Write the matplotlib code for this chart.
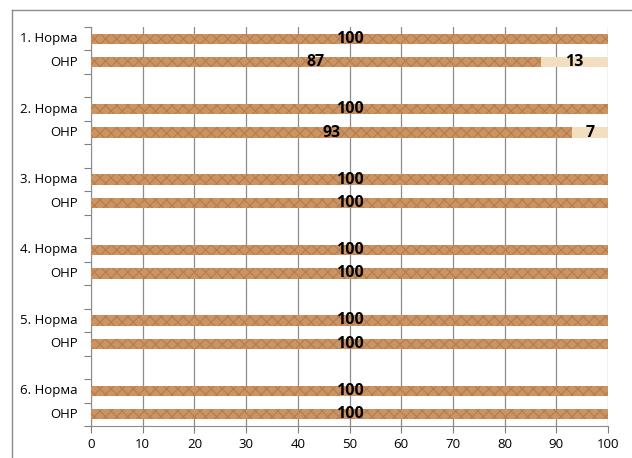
import matplotlib
matplotlib.use("Agg")
import matplotlib.pyplot as plt
from matplotlib.lines import Line2D
import numpy as np

groups = ["1.", "2.", "3.", "4.", "5.", "6."]
row_names = ["Норма", "ОНР"]
# percentage of first (dark) segment for [Норма, ОНР] in each group
main_vals = [[100, 87], [100, 93], [100, 100], [100, 100], [100, 100], [100, 100]]
rest_vals = [[0, 13], [0, 7], [0, 0], [0, 0], [0, 0], [0, 0]]
xticks = [0, 10, 20, 30, 40, 50, 60, 70, 80, 90, 100]

W, H = 632, 458
fig = plt.figure(figsize=(W / 100, H / 100), dpi=100)
plt.rcParams['font.family'] = ['Open Sans', 'DejaVu Sans']
plt.rcParams['hatch.linewidth'] = 0.8

left, right, top, bottom = 91, 608, 27, 426
ax = fig.add_axes([left / W, 1 - bottom / H, (right - left) / W, (bottom - top) / H])

n_slots = len(groups) * 3 - 1
labels_pos = []
labels_txt = []
dark = '#CC9463'
dark_hatch = '#B57C4E'
light = '#F3DFC0'
bh = 0.44
for gi, g in enumerate(groups):
    for ri, rn in enumerate(row_names):
        slot = gi * 3 + ri
        y = n_slots - slot - 0.5
        m = main_vals[gi][ri]
        r = rest_vals[gi][ri]
        ax.barh(y, m, height=bh, color=dark, edgecolor=dark_hatch, hatch='xxx', linewidth=0, zorder=3)
        if r > 0:
            ax.barh(y, r, left=m, height=bh, color=light, linewidth=0, zorder=3)
            ax.text(m + r / 2, y, str(r), ha='center', va='center', fontsize=11.5,
                    fontweight='bold', color='black', zorder=5)
        ax.text(m / 2, y, str(m), ha='center', va='center', fontsize=11.5,
                fontweight='bold', color='black', zorder=5)
        labels_pos.append(y)
        labels_txt.append(f"{g} {rn}" if ri == 0 else rn)

ax.set_xlim(0, 100)
ax.set_ylim(0, n_slots)
ax.set_xticks(xticks)
ax.set_xticklabels([str(v) for v in xticks], fontsize=9.5)
ax.set_yticks(np.arange(0, n_slots + 1))
ax.set_yticklabels([])
ax.tick_params(axis='y', length=5, color='#808080', direction='out')
ax.tick_params(axis='x', length=5, color='#808080', direction='out', pad=4)
for y, t in zip(labels_pos, labels_txt):
    ax.text(-2.6, y, t, ha='right', va='center', fontsize=9.5, transform=ax.transData)
ax.grid(axis='x', color='#8C8C8C', linewidth=0.9, zorder=0)
ax.set_axisbelow(True)
for s in ['top', 'right']:
    ax.spines[s].set_visible(False)
for s in ['left', 'bottom']:
    ax.spines[s].set_color('#8C8C8C')

# outer frame
fig.add_artist(Line2D([12 / W, 1], [1 - 10 / H, 1 - 10 / H], color='#8C8C8C', lw=1))
fig.add_artist(Line2D([12 / W, 12 / W], [0, 1 - 10 / H], color='#8C8C8C', lw=1))

fig.savefig('out.png', dpi=100)
